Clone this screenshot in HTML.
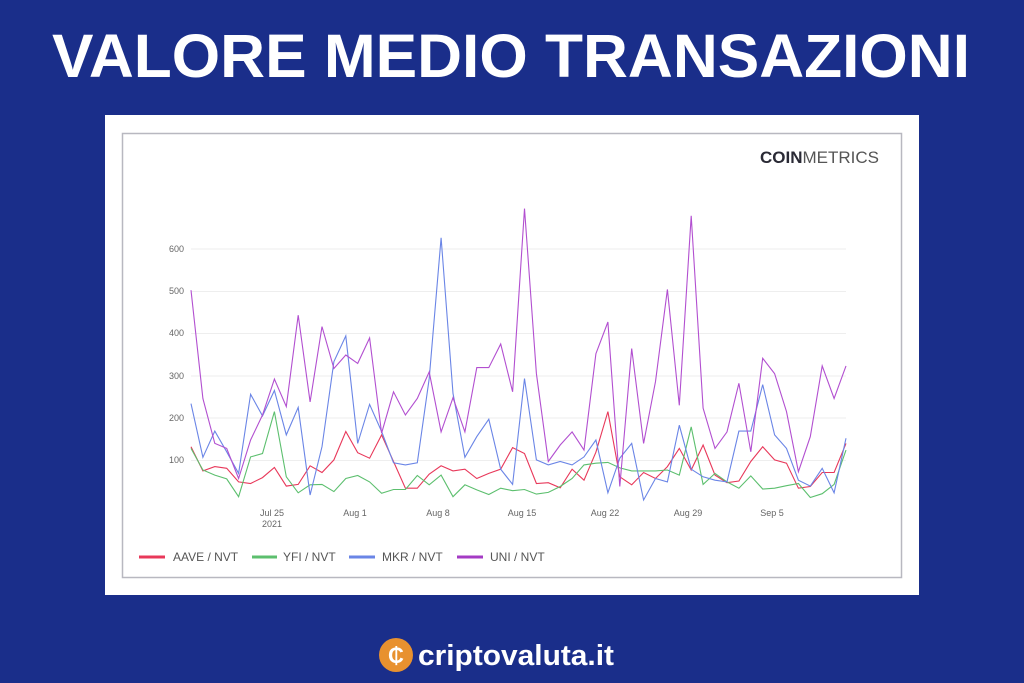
<!DOCTYPE html>
<html><head><meta charset="utf-8"><style>
html,body{margin:0;padding:0;background:#1a2e8a;}
svg{display:block;font-family:"Liberation Sans",sans-serif;}
</style></head><body>
<svg id="s" width="1024" height="683" viewBox="0 0 1024 683" xmlns="http://www.w3.org/2000/svg">
<rect width="1024" height="683" fill="#1a2e8a"/>
<text x="511" y="77" fill="#fff" font-weight="bold" font-size="61" text-anchor="middle" textLength="918" lengthAdjust="spacingAndGlyphs">VALORE MEDIO TRANSAZIONI</text>
<rect x="105" y="115" width="814" height="480" fill="#fff"/>
<rect x="122.5" y="133.5" width="779" height="444" fill="none" stroke="#b8b8c0" stroke-width="1.5"/>
<text x="760" y="163" font-size="17" fill="#2a2a35"><tspan font-weight="bold">COIN</tspan><tspan fill="#555">METRICS</tspan></text>
<g stroke="#eeeeee" stroke-width="1">
<line x1="191" x2="846" y1="249" y2="249"/><line x1="191" x2="846" y1="291.5" y2="291.5"/><line x1="191" x2="846" y1="333.5" y2="333.5"/><line x1="191" x2="846" y1="376" y2="376"/><line x1="191" x2="846" y1="418" y2="418"/><line x1="191" x2="846" y1="460.5" y2="460.5"/>
</g>
<g font-size="9" fill="#666" text-anchor="end">
<text x="184" y="252">600</text><text x="184" y="294">500</text><text x="184" y="336">400</text><text x="184" y="379">300</text><text x="184" y="421">200</text><text x="184" y="463">100</text>
</g>
<g font-size="9" fill="#666" text-anchor="middle">
<text x="272" y="516">Jul 25</text><text x="272" y="527">2021</text>
<text x="355" y="516">Aug 1</text><text x="438" y="516">Aug 8</text><text x="522" y="516">Aug 15</text><text x="605" y="516">Aug 22</text><text x="688" y="516">Aug 29</text><text x="772" y="516">Sep 5</text>
</g>
<g id="lines" fill="none" stroke-width="1.1"></g>
<g font-size="12" fill="#555">
<line x1="139" x2="165" y1="557" y2="557" stroke="#e8385a" stroke-width="3"/><text x="173" y="561">AAVE / NVT</text>
<line x1="252" x2="277" y1="557" y2="557" stroke="#5cbf6e" stroke-width="3"/><text x="283" y="561">YFI / NVT</text>
<line x1="349" x2="375" y1="557" y2="557" stroke="#6a85e6" stroke-width="3"/><text x="382" y="561">MKR / NVT</text>
<line x1="457" x2="483" y1="557" y2="557" stroke="#a43bc4" stroke-width="3"/><text x="490" y="561">UNI / NVT</text>
</g>
<circle cx="396" cy="655" r="17" fill="#e8912f"/>
<text x="396" y="663" font-size="22" font-weight="bold" fill="#fff" text-anchor="middle">₵</text>
<text x="418" y="665" font-size="29" font-weight="bold" fill="#fff" textLength="196" lengthAdjust="spacingAndGlyphs">criptovaluta.it</text>
</svg>
<script>
var D={
"#e8385a":[133,76,86,82,50,46,60,84,40,44,88,72,102,169,119,106,161,98,35,35,68,88,76,80,58,70,80,131,117,46,48,36,80,54,120,216,62,43,72,58,86,129,78,137,66,48,52,98,133,102,94,35,39,72,72,141],
"#5cbf6e":[129,78,66,57,15,109,117,216,62,24,43,44,27,58,65,50,23,32,32,65,43,66,15,43,31,20,35,29,32,21,25,39,58,90,94,96,83,76,76,76,78,66,180,44,70,50,35,64,33,35,41,46,13,22,44,125],
"#6a85e6":[235,108,170,121,70,257,206,266,161,226,19,133,334,395,141,233,169,95,90,95,294,627,259,108,157,198,80,44,294,102,90,98,90,109,149,24,106,141,7,58,50,184,80,62,54,50,170,170,280,161,129,54,40,82,24,153],
"#b24fd0":[503,247,141,129,58,149,208,293,228,444,239,417,318,350,330,390,165,263,208,247,310,168,249,168,320,320,376,263,696,306,98,137,168,125,353,428,39,365,141,287,505,231,679,224,129,168,283,121,342,306,216,74,157,324,247,324]};
var g=document.getElementById("lines"),ns="http://www.w3.org/2000/svg";
for(var c in D){var p=D[c].map(function(v,i){return (191+i*11.91).toFixed(1)+","+(503-v*0.423).toFixed(1)}).join(" ");
var e=document.createElementNS(ns,"polyline");e.setAttribute("points",p);e.setAttribute("stroke",c);g.appendChild(e);}
</script>
</body></html>
